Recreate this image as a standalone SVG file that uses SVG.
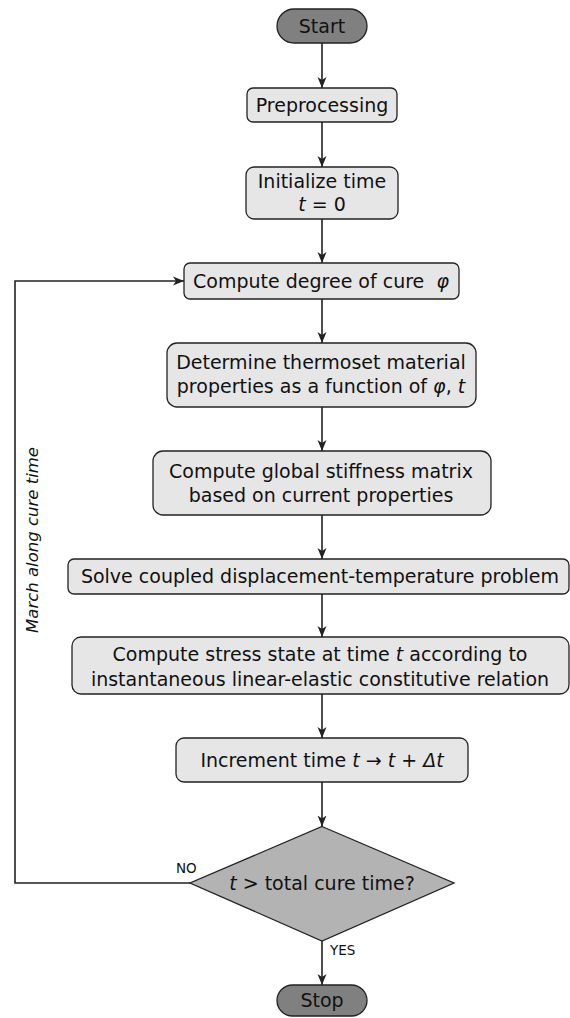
<svg xmlns="http://www.w3.org/2000/svg" width="570" height="1018" viewBox="0 0 570 1018">
<style>
text{font-family:"DejaVu Sans","Verdana",sans-serif;fill:#111}
.t{font-size:19px;text-anchor:middle}
.i{font-style:italic}
.box{fill:#e6e6e6;stroke:#222;stroke-width:1.3}
.term{fill:#808080;stroke:#222;stroke-width:1.3}
.dec{fill:#b3b3b3;stroke:#222;stroke-width:1.3}
.c{fill:none;stroke:#222;stroke-width:1.6}
.lbl{font-size:13.5px}
</style>
<defs>
<marker id="ah" markerUnits="userSpaceOnUse" markerWidth="12" markerHeight="10" refX="11" refY="5" orient="auto">
<path d="M0,0.5 L11,5 L0,9.5 L3,5 z" fill="#222"/>
</marker>
</defs>
<rect width="570" height="1018" fill="#fff"/>
<g id="connectors">
<line class="c" x1="322" y1="43" x2="322" y2="88" marker-end="url(#ah)"/>
<line class="c" x1="322" y1="122" x2="322" y2="167" marker-end="url(#ah)"/>
<line class="c" x1="322" y1="219" x2="322" y2="263" marker-end="url(#ah)"/>
<line class="c" x1="322" y1="299" x2="322" y2="343" marker-end="url(#ah)"/>
<line class="c" x1="322" y1="407" x2="322" y2="451" marker-end="url(#ah)"/>
<line class="c" x1="322" y1="515" x2="322" y2="559" marker-end="url(#ah)"/>
<line class="c" x1="322" y1="594" x2="322" y2="637" marker-end="url(#ah)"/>
<line class="c" x1="322" y1="694" x2="322" y2="738" marker-end="url(#ah)"/>
<line class="c" x1="322" y1="782" x2="322" y2="826.5" marker-end="url(#ah)"/>
<line class="c" x1="322" y1="941" x2="322" y2="985" marker-end="url(#ah)"/>
<polyline class="c" points="190,883 15,883 15,281 184,281" marker-end="url(#ah)"/>
<text class="lbl" x="176" y="873">NO</text>
<text class="lbl" x="330" y="955">YES</text>
<text class="i" font-size="16.5" text-anchor="middle" transform="translate(38,540) rotate(-90)">March along cure time</text>
</g>
<g id="start">
<rect class="term" x="277" y="9" width="90" height="34" rx="17"/>
<text class="t" x="322" y="33">Start</text>
</g>
<g id="preprocessing">
<rect class="box" x="247" y="88" width="150" height="34" rx="6"/>
<text class="t" x="322" y="112">Preprocessing</text>
</g>
<g id="init">
<rect class="box" x="246" y="167" width="152" height="52" rx="8"/>
<text class="t" x="322" y="188">Initialize time</text>
<text class="t" x="322" y="211"><tspan class="i">t</tspan> = 0</text>
</g>
<g id="cure">
<rect class="box" x="184" y="263" width="275" height="36" rx="6"/>
<text class="t" x="321" y="288">Compute degree of cure&#160; <tspan class="i">φ</tspan></text>
</g>
<g id="props">
<rect class="box" x="167" y="343" width="309" height="64" rx="10"/>
<text class="t" x="321" y="369">Determine thermoset material</text>
<text class="t" x="321" y="393">properties as a function of <tspan class="i">φ</tspan>, <tspan class="i">t</tspan></text>
</g>
<g id="stiffness">
<rect class="box" x="153" y="451" width="338" height="64" rx="10"/>
<text class="t" x="321" y="478">Compute global stiffness matrix</text>
<text class="t" x="321" y="502">based on current properties</text>
</g>
<g id="solve">
<rect class="box" x="68" y="559" width="501" height="35" rx="6"/>
<text class="t" x="320" y="583">Solve coupled displacement-temperature problem</text>
</g>
<g id="stress">
<rect class="box" x="72" y="637" width="497" height="57" rx="9"/>
<text class="t" x="320" y="661">Compute stress state at time <tspan class="i">t</tspan> according to</text>
<text class="t" x="320" y="686">instantaneous linear-elastic constitutive relation</text>
</g>
<g id="increment">
<rect class="box" x="176" y="738" width="292" height="44" rx="8"/>
<text class="t" x="322" y="767">Increment time <tspan class="i">t</tspan> → <tspan class="i">t</tspan> + <tspan class="i">Δt</tspan></text>
</g>
<g id="decision">
<polygon class="dec" points="322,826.5 454,883 322,941 190,883"/>
<text class="t" x="322" y="890"><tspan class="i">t</tspan> &gt; total cure time?</text>
</g>
<g id="stop">
<rect class="term" x="277" y="985" width="90" height="31" rx="15.5"/>
<text class="t" x="322" y="1007">Stop</text>
</g>
</svg>
